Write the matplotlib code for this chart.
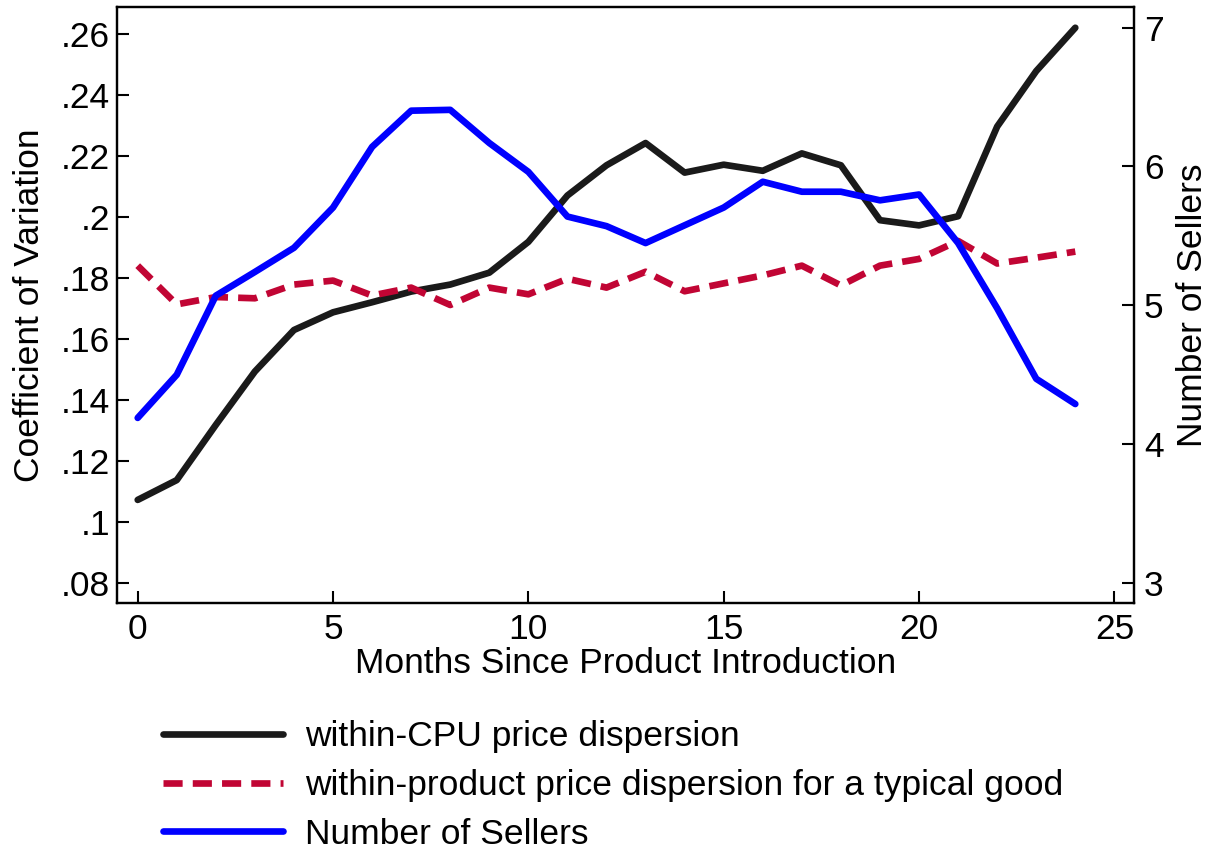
import matplotlib
matplotlib.use("Agg")
import matplotlib.pyplot as plt

plt.rcParams['font.family'] = ['Liberation Sans', 'DejaVu Sans']

months = list(range(25))
within_cpu = [0.1071, 0.1136, 0.1317, 0.1492, 0.1628, 0.1686, 0.1719, 0.1754, 0.1777,
              0.1816, 0.1917, 0.2069, 0.2168, 0.2241, 0.2144, 0.2170, 0.2150, 0.2207,
              0.2168, 0.1988, 0.1971, 0.2001, 0.2295, 0.2477, 0.2619]
within_product = [0.1839, 0.1712, 0.1736, 0.1732, 0.1777, 0.1790, 0.1741, 0.1767, 0.1710,
                  0.1767, 0.1745, 0.1796, 0.1767, 0.1819, 0.1755, 0.1781, 0.1807, 0.1839,
                  0.1774, 0.1839, 0.1861, 0.1920, 0.1846, 0.1865, 0.1885]
num_sellers = [4.188, 4.499, 5.069, 5.240, 5.414, 5.704, 6.141, 6.402, 6.408, 6.169,
               5.961, 5.639, 5.570, 5.448, 5.576, 5.704, 5.890, 5.818, 5.818, 5.756,
               5.798, 5.448, 4.978, 4.470, 4.288]

x_ticks = [0, 5, 10, 15, 20, 25]
left_ticks = [0.08, 0.10, 0.12, 0.14, 0.16, 0.18, 0.20, 0.22, 0.24, 0.26]
left_tick_labels = [".08", ".1", ".12", ".14", ".16", ".18", ".2", ".22", ".24", ".26"]
right_ticks = [3, 4, 5, 6, 7]

labels = ["within-CPU price dispersion",
          "within-product price dispersion for a typical good",
          "Number of Sellers"]

FS = 25.5
W, H = 1214, 852
fig = plt.figure(figsize=(W / 100, H / 100), dpi=100)
l, r, b, t = 117, 1134.3, 603.3, 7.3
ax = fig.add_axes([l / W, 1 - b / H, (r - l) / W, (b - t) / H])
ax2 = ax.twinx()

c_black = "#1a1a1a"
c_red = "#c10534"
c_blue = "#0000ff"

h1, = ax.plot(months, within_cpu, color=c_black, lw=4.8, solid_capstyle='round')
h2, = ax.plot(months, within_product, color=c_red, lw=4.8, dashes=(2.87, 1.52))
h3, = ax2.plot(months, num_sellers, color=c_blue, lw=4.8, solid_capstyle='round')

ax.set_xlim(-0.53, 25.51)
ax.set_ylim(0.0732, 0.2686)
ax2.set_ylim(2.852, 7.147)

ax.set_xticks(x_ticks)
ax.set_yticks(left_ticks)
ax.set_yticklabels(left_tick_labels)
ax2.set_yticks(right_ticks)

for a in (ax, ax2):
    for s in a.spines.values():
        s.set_linewidth(1.6)
ax.tick_params(axis='both', direction='in', length=8.6, width=1.5, labelsize=FS)
ax.tick_params(axis='y', pad=5)
ax.tick_params(axis='x', pad=7)
ax2.tick_params(axis='y', direction='in', length=8.6, width=1.5, labelsize=FS, pad=7)

ax.set_xlabel("Months Since Product Introduction", fontsize=FS, labelpad=1)
ax.set_ylabel("Coefficient of Variation", fontsize=FS, labelpad=11)
ax2.set_ylabel("Number of Sellers", fontsize=FS, labelpad=9)

fig.legend([h1, h2, h3], labels, loc='upper left',
           bbox_to_anchor=(163 / W, 1 - 720 / H), frameon=False, fontsize=FS,
           borderpad=0, borderaxespad=0, handlelength=3.4, handletextpad=0.6,
           labelspacing=0.45)

fig.savefig("out.png", dpi=100)
